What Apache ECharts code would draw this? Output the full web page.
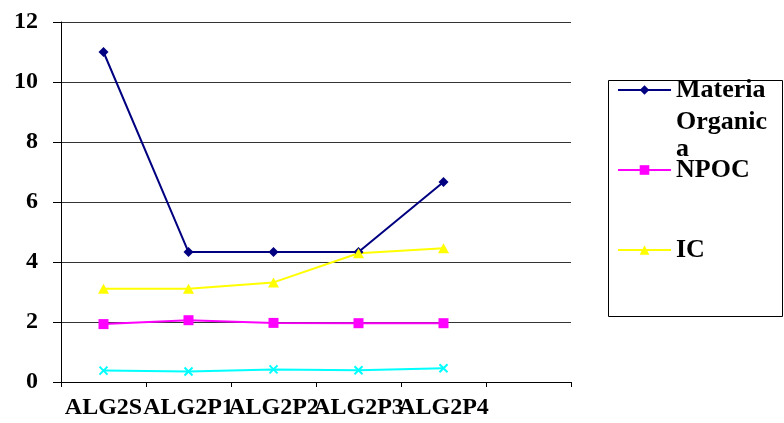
<!DOCTYPE html>
<html>
<head>
<meta charset="utf-8">
<script src="https://cdn.jsdelivr.net/npm/echarts@6/dist/echarts.min.js"></script>
<style>
html,body{margin:0;padding:0;background:#fff;}
#chart{width:784px;height:423px;}
</style>
</head>
<body>
<div id="chart"></div>
<script>
const categories = ['ALG2S', 'ALG2P1', 'ALG2P2', 'ALG2P3', 'ALG2P4', ''];
const materiaOrganica = [11.0, 4.33, 4.33, 4.33, 6.67];
const npoc = [1.93, 2.06, 1.97, 1.96, 1.96];
const ic = [3.11, 3.11, 3.32, 4.29, 4.46];
const serie4 = [0.38, 0.35, 0.42, 0.39, 0.46];
const yTicks = { min: 0, max: 12, interval: 2 };

const FONT = '"Liberation Serif", "Times New Roman", serif';
const chart = echarts.init(document.getElementById('chart'), null, { renderer: 'canvas' });

const xMarker = 'path://M0,0 L10,10 M10,0 L0,10';

chart.setOption({
  animation: false,
  backgroundColor: '#fff',
  grid: { left: 61, right: 213, top: 22, bottom: 41, containLabel: false },
  xAxis: {
    type: 'category',
    data: categories,
    boundaryGap: true,
    axisLine: { lineStyle: { color: '#000', width: 1 } },
    axisTick: { show: true, length: 5, interval: 0, lineStyle: { color: '#000' } },
    axisLabel: { interval: 0, margin: 14, color: '#000', fontFamily: FONT, fontWeight: 'bold', fontSize: 24 },
    splitLine: { show: false }
  },
  yAxis: {
    type: 'value',
    min: yTicks.min, max: yTicks.max, interval: yTicks.interval,
    axisLine: { show: true, lineStyle: { color: '#000', width: 1 } },
    axisTick: { show: true, length: 8, lineStyle: { color: '#000' } },
    axisLabel: { margin: 23, color: '#000', fontFamily: FONT, fontWeight: 'bold', fontSize: 24 },
    splitLine: { show: true, lineStyle: { color: '#333333', width: 1 } }
  },
  legend: {
    orient: 'vertical',
    left: 617, top: 77,
    itemWidth: 53, itemHeight: 12,
    itemGap: 54,
    padding: 0,
    data: ['Materia Organica', 'NPOC', 'IC'],
    formatter: function (name) { return name === 'Materia Organica' ? 'Materia' : name; },
    textStyle: { fontFamily: FONT, fontWeight: 'bold', fontSize: 26, lineHeight: 26, color: '#000', padding: [0, 0, 0, 0] }
  },
  graphic: [
    { type: 'rect', shape: { x: 608.5, y: 80.5, width: 174, height: 236 }, style: { fill: 'none', stroke: '#000', lineWidth: 1 }, z: 0 },
    { type: 'text', left: 676, top: 109, style: { text: 'Organic', font: 'bold 26px ' + FONT, fill: '#000' }, z: 10 },
    { type: 'text', left: 676, top: 136, style: { text: 'a', font: 'bold 26px ' + FONT, fill: '#000' }, z: 10 }
  ],
  series: [
    {
      name: 'Materia Organica', type: 'line', data: materiaOrganica,
      symbol: 'diamond', symbolSize: 10,
      lineStyle: { color: '#000080', width: 2 },
      itemStyle: { color: '#000080' }
    },
    {
      name: 'NPOC', type: 'line', data: npoc,
      symbol: 'rect', symbolSize: 10,
      lineStyle: { color: '#FF00FF', width: 2 },
      itemStyle: { color: '#FF00FF' }
    },
    {
      name: 'IC', type: 'line', data: ic,
      symbol: 'triangle', symbolSize: [11, 10],
      lineStyle: { color: '#FFFF00', width: 2 },
      itemStyle: { color: '#FFFF00' }
    },
    {
      name: 'Serie4', type: 'line', data: serie4,
      symbol: xMarker, symbolSize: 8,
      lineStyle: { color: '#00FFFF', width: 2 },
      itemStyle: { color: '#00FFFF', borderColor: '#00FFFF', borderWidth: 2 }
    }
  ]
});
</script>
</body>
</html>
